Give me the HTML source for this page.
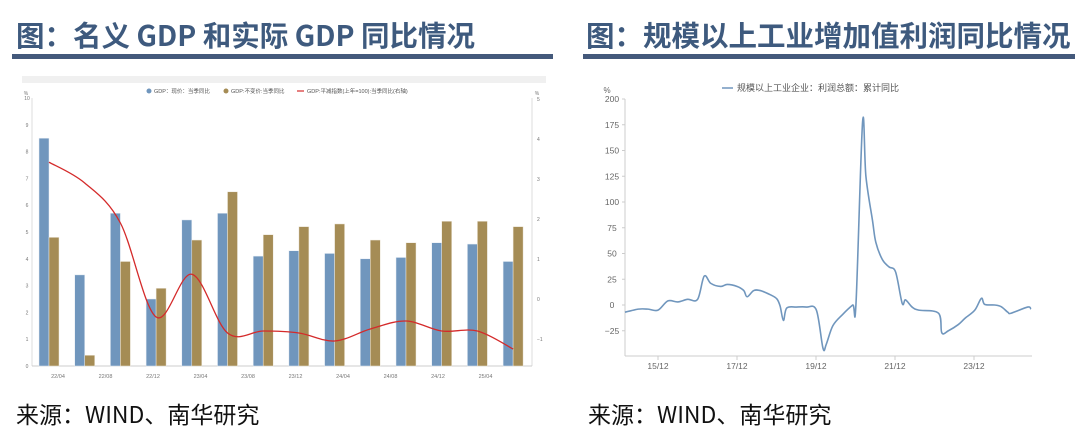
<!DOCTYPE html>
<html><head><meta charset="utf-8"><style>
body{margin:0;width:1079px;height:441px;background:#fff;overflow:hidden;position:relative;font-family:"Liberation Sans","Noto Sans CJK SC",sans-serif}
.t{position:absolute;top:17px;font-family:"Noto Sans CJK SC",sans-serif;font-weight:bold;font-size:28.5px;color:#3e5a7e;white-space:nowrap;line-height:36px}
.u{position:absolute;top:54px;height:5px;background:#44597b}
.f{position:absolute;top:398px;font-family:"Noto Sans CJK SC",sans-serif;font-size:23px;color:#111;white-space:nowrap;line-height:30px}
svg{position:absolute;left:0;top:0}
</style></head><body>
<div class="t" style="left:16px">图：名义 GDP 和实际 GDP 同比情况</div>
<div class="u" style="left:12px;width:541px"></div>
<div class="t" style="left:586px">图：规模以上工业增加值利润同比情况</div>
<div class="u" style="left:583px;width:492px"></div>
<div class="f" style="left:16px">来源：WIND、南华研究</div>
<div class="f" style="left:588px">来源：WIND、南华研究</div>
<svg id="s" width="1079" height="441"></svg>
<script>
const gdpCats=["22/03","22/06","22/09","22/12","23/03","23/06","23/09","23/12","24/03","24/06","24/09","24/12","25/03","25/06"];
const nominalGdp=[8.5,3.4,5.7,2.5,5.45,5.7,4.1,4.3,4.2,4.0,4.05,4.6,4.55,3.9];
const realGdp=[4.8,0.4,3.9,2.9,4.7,6.5,4.9,5.2,5.3,4.7,4.6,5.4,5.4,5.2];
const deflator=[3.42,2.9,1.9,-0.45,0.62,-0.85,-0.8,-0.85,-1.05,-0.75,-0.55,-0.8,-0.8,-1.25];
const leftTicks=[0,1,2,3,4,5,6,7,8,9,10];
const rightTicks=[-1,0,1,2,3,4,5];
const xLabelsL=["22/04","22/08","22/12","23/04","23/08","23/12","24/04","24/08","24/12","25/04"];
const profitDates=["2015-02","2015-06","2015-09","2015-12","2016-03","2016-06","2016-09","2016-12","2017-02","2017-04","2017-07","2017-09","2017-12","2018-02","2018-03","2018-05","2018-07","2018-10","2018-12","2019-01","2019-02","2019-03","2019-06","2019-09","2019-12","2020-02","2020-03","2020-05","2020-08","2020-11","2020-12","2021-02","2021-03","2021-05","2021-06","2021-08","2021-10","2021-12","2022-02","2022-03","2022-05","2022-07","2023-01","2023-02","2023-04","2023-07","2023-09","2023-12","2024-02","2024-03","2024-06","2024-08","2024-10","2024-11","2025-04","2025-05"];
const profitVals=[-7,-4,-4,-5,4,3,5.5,5.5,28,21,18,20,18,14,8,14,14,10,6,-1,-15,-3,-2,-2,-5,-42,-38,-20,-9,0,1.5,178,125,82,61,44,37,32,1.6,5,-2,-5,-8,-27,-25,-19,-13,-5,6.5,0.6,0,-1.6,-7,-8,-2,-4];
const profitTicks=[-25,0,25,50,75,100,125,150,175,200];
const xLabelsR=["15/12","17/12","19/12","21/12","23/12"];

const S=document.getElementById('s');const NS='http://www.w3.org/2000/svg';
function mk(t,a,p){const e=document.createElementNS(NS,t);for(const k in a)e.setAttribute(k,a[k]);(p||S).appendChild(e);return e;}
function txt(x,y,s,size,fill,anchor){const e=mk('text',{x:x,y:y,'font-size':size,fill:fill,'text-anchor':anchor||'middle','font-family':'Liberation Sans, Noto Sans CJK SC, sans-serif'});e.textContent=s;return e;}
function smooth(pts){let d='M'+pts[0][0]+','+pts[0][1];for(let i=0;i<pts.length-1;i++){const p0=pts[i-1]||pts[i],p1=pts[i],p2=pts[i+1],p3=pts[i+2]||p2;d+=' C'+(p1[0]+(p2[0]-p0[0])/6)+','+(p1[1]+(p2[1]-p0[1])/6)+' '+(p2[0]-(p3[0]-p1[0])/6)+','+(p2[1]-(p3[1]-p1[1])/6)+' '+p2[0]+','+p2[1];}return d;}

// LEFT CHART
const yL=v=>366-v*26.8, yR=v=>299-v*40, gx=i=>49+i*35.7;
const band=mk('rect',{x:22,y:76,width:524,height:7,fill:'#f0f0f0'});

const lg=mk('g',{});
mk('circle',{cx:149,cy:91,r:2.5,fill:'#7096bd'},lg);txt(154,93,'GDP：现价：当季同比',5.5,'#555','start');
mk('circle',{cx:226,cy:91,r:2.5,fill:'#a58c55'},lg);txt(231,93,'GDP:不变价:当季同比',5.5,'#555','start');
mk('line',{x1:297,y1:91,x2:304,y2:91,stroke:'#d42a2a','stroke-width':1.2},lg);txt(307,93,'GDP:平减指数(上年=100):当季同比(右轴)',5.5,'#555','start');
mk('line',{x1:32,y1:98,x2:32,y2:366,stroke:'#ddd','stroke-width':1});
mk('line',{x1:532,y1:98,x2:532,y2:366,stroke:'#ddd','stroke-width':1});
mk('line',{x1:32,y1:366,x2:532,y2:366,stroke:'#ccc','stroke-width':1});
txt(26,95,'%',5,'#777');txt(537,95,'%',5,'#777');
leftTicks.forEach(v=>{const e=txt(27,yL(v)+2,String(v),5,'#777','middle');});
rightTicks.forEach(v=>{const e=txt(537,yR(v)+2,v<0?'−'+(-v):String(v),5,'#777','start');});
xLabelsL.forEach((s,i)=>{const x=58+i*47.5;const e=txt(x,378,s,5.5,'#777');});
gdpCats.forEach((c,i)=>{
 const b=mk('rect',{x:gx(i)-10,y:yL(nominalGdp[i]),width:10,height:366-yL(nominalGdp[i]),fill:'#7096bd',stroke:'#e8eef5','stroke-width':0.5});
 
 const r=mk('rect',{x:gx(i),y:yL(realGdp[i]),width:10,height:366-yL(realGdp[i]),fill:'#a58c55',stroke:'#f0ebe0','stroke-width':0.5});
 
});
const dl=mk('path',{d:smooth(deflator.map((v,i)=>[gx(i),yR(v)])),fill:'none',stroke:'#d42a2a','stroke-width':1.3});


// RIGHT CHART
const t0=2015*12+1; // 2015-02
const xT=s=>{const [y,m]=s.split('-').map(Number);return 625+(y*12+m-1-t0)*3.3;};
const yP=v=>305-v*1.03;
const rl=mk('g',{});
mk('line',{x1:722,y1:88,x2:733,y2:88,stroke:'#7096bd','stroke-width':1.5},rl);
txt(737,91,'规模以上工业企业：利润总额：累计同比',9,'#555','start');
mk('line',{x1:625,y1:99,x2:625,y2:356,stroke:'#ccc','stroke-width':1});
mk('line',{x1:625,y1:356,x2:1032,y2:356,stroke:'#ccc','stroke-width':1});
txt(607,93,'%',8,'#666');
profitTicks.forEach(v=>{const e=txt(612,yP(v)+3,v<0?'−'+(-v):String(v),8.5,'#666');mk('line',{x1:622,y1:yP(v),x2:625,y2:yP(v),stroke:'#ccc'});});
xLabelsR.forEach((s,i)=>{const x=658+i*79;const e=txt(x,369,s,8.5,'#666');mk('line',{x1:x,y1:356,x2:x,y2:360,stroke:'#ccc'});});
const pl=mk('path',{d:smooth(profitDates.map((d,i)=>[xT(d),yP(profitVals[i])])),fill:'none',stroke:'#7096bd','stroke-width':1.6,'stroke-linejoin':'round'});

</script>
</body></html>
